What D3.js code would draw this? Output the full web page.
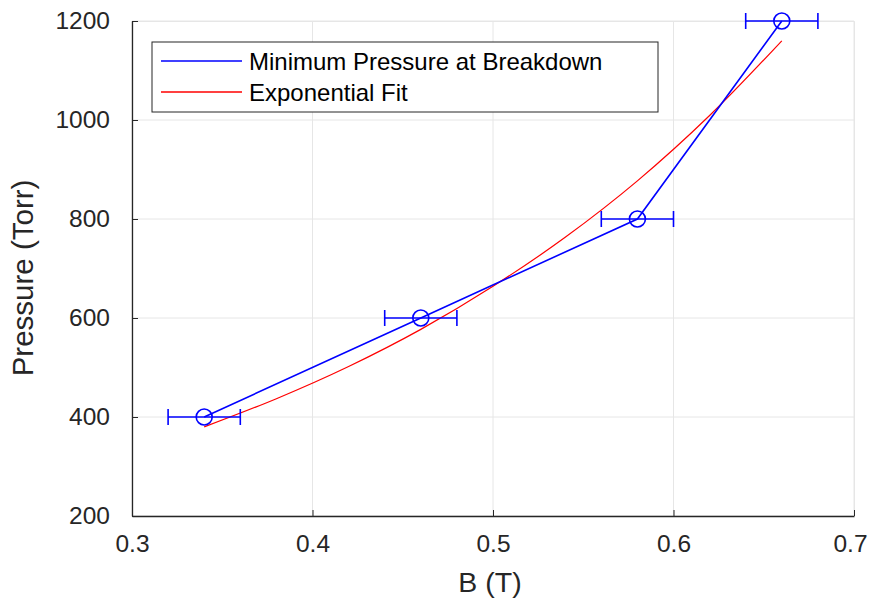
<!DOCTYPE html>
<html>
<head>
<meta charset="utf-8">
<script src="https://cdn.jsdelivr.net/npm/d3@7"></script>
<style>
  body { margin: 0; background: #fff; }
  text { font-family: "Liberation Sans", Arial, sans-serif; }
</style>
</head>
<body>
<div id="chart"></div>
<script>
// measured points with horizontal error bars
var fieldB = [0.34, 0.46, 0.58, 0.66];
var minPressure = [400, 600, 800, 1200];
var fieldErr = [0.02, 0.02, 0.02, 0.02];

// exponential fit curve
var fitB = [0.34, 0.38, 0.42, 0.46, 0.50, 0.54, 0.58, 0.62, 0.66];
var fitP = [380, 437, 502, 577, 664, 763, 877, 1009, 1160];

var xTicks = [0.3, 0.4, 0.5, 0.6, 0.7];
var yTicks = [200, 400, 600, 800, 1000, 1200];
var seriesNames = ["Minimum Pressure at Breakdown", "Exponential Fit"];
var seriesColors = ["#0000ff", "#ff0000"];

var margin = {top: 21, right: 16, bottom: 83, left: 132},
    width = 870 - margin.left - margin.right,
    height = 599 - margin.top - margin.bottom;

var svg = d3.select("#chart")
  .append("svg")
    .attr("width", 870)
    .attr("height", 599)
  .append("g")
    .attr("transform", "translate(" + margin.left + "," + margin.top + ")");

var x = d3.scaleLinear().domain([0.3, 0.7]).range([0, width]);
var y = d3.scaleLinear().domain([200, 1200]).range([height, 0]);

// grid
svg.append("g").selectAll("line")
  .data(xTicks).enter().append("line")
  .attr("x1", d => x(d)).attr("x2", d => x(d))
  .attr("y1", 0).attr("y2", height)
  .attr("stroke", "#e6e6e6");
svg.append("g").selectAll("line")
  .data(yTicks).enter().append("line")
  .attr("y1", d => y(d)).attr("y2", d => y(d))
  .attr("x1", 0).attr("x2", width)
  .attr("stroke", "#e6e6e6");

// light box top/right
svg.append("path")
  .attr("d", "M0,0.5H" + (width + 0.5) + "V" + height)
  .attr("fill", "none").attr("stroke", "#e6e6e6");

// axes
var xAxis = svg.append("g")
  .attr("transform", "translate(0," + height + ")")
  .call(d3.axisBottom(x).tickValues(xTicks).tickFormat(d3.format(".1f")).tickSizeInner(-6).tickSizeOuter(0).tickPadding(19));
var yAxis = svg.append("g")
  .call(d3.axisLeft(y).tickValues(yTicks).tickFormat(d3.format("d")).tickSizeInner(-6).tickSizeOuter(0).tickPadding(22));
[xAxis, yAxis].forEach(function(a) {
  a.select(".domain").attr("stroke", "#262626").attr("stroke-width", 1.3);
  a.selectAll(".tick line").attr("stroke", "#262626");
  a.selectAll(".tick text").attr("fill", "#262626").style("font-size", "24.5px")
    .style("font-family", "Liberation Sans, Arial, sans-serif");
});
// keep the last x label inside the window
xAxis.selectAll(".tick text").filter(d => d === 0.7).attr("dx", -4);

// axis titles
svg.append("text")
  .attr("x", x(0.5) - 3).attr("y", height + 76)
  .attr("text-anchor", "middle")
  .attr("fill", "#262626")
  .style("font-size", "28.5px")
  .text("B (T)");
svg.append("text")
  .attr("transform", "rotate(-90)")
  .attr("x", -257).attr("y", -99)
  .attr("text-anchor", "middle")
  .attr("fill", "#262626")
  .style("font-size", "29.5px")
  .text("Pressure (Torr)");

// fit curve
var fitData = fitB.map((b, i) => ({b: b, p: fitP[i]}));
svg.append("path")
  .datum(fitData)
  .attr("fill", "none")
  .attr("stroke", seriesColors[1])
  .attr("stroke-width", 1.2)
  .attr("d", d3.line().x(d => x(d.b)).y(d => y(d.p)).curve(d3.curveMonotoneX));

// measured data
var pts = fieldB.map((b, i) => ({b: b, p: minPressure[i], e: fieldErr[i]}));
svg.append("path")
  .datum(pts)
  .attr("fill", "none")
  .attr("stroke", seriesColors[0])
  .attr("stroke-width", 1.6)
  .attr("d", d3.line().x(d => x(d.b)).y(d => y(d.p)));

var eb = svg.append("g").selectAll("g")
  .data(pts).enter().append("g")
  .attr("stroke", seriesColors[0])
  .attr("stroke-width", 1.6)
  .attr("fill", "none");
eb.append("line")
  .attr("x1", d => x(d.b - d.e)).attr("x2", d => x(d.b + d.e))
  .attr("y1", d => y(d.p)).attr("y2", d => y(d.p));
eb.append("line")
  .attr("x1", d => x(d.b - d.e)).attr("x2", d => x(d.b - d.e))
  .attr("y1", d => y(d.p) - 8).attr("y2", d => y(d.p) + 8);
eb.append("line")
  .attr("x1", d => x(d.b + d.e)).attr("x2", d => x(d.b + d.e))
  .attr("y1", d => y(d.p) - 8).attr("y2", d => y(d.p) + 8);
eb.append("circle")
  .attr("cx", d => x(d.b)).attr("cy", d => y(d.p))
  .attr("r", 8);

// legend
var legend = svg.append("g")
  .attr("transform", "translate(20,21)");
legend.append("rect")
  .attr("width", 506).attr("height", 70)
  .attr("fill", "#fff").attr("stroke", "#262626");
var item = legend.selectAll("g.item")
  .data(seriesNames).enter().append("g")
  .attr("class", "item")
  .attr("transform", (d, i) => "translate(0," + (19 + i * 31) + ")");
item.append("line")
  .attr("x1", 9).attr("x2", 90)
  .attr("stroke", (d, i) => seriesColors[i])
  .attr("stroke-width", 1.3);
item.append("text")
  .attr("x", 97).attr("y", 8.5)
  .attr("fill", "#000")
  .style("font-size", "24px")
  .text(d => d);
</script>
</body>
</html>
